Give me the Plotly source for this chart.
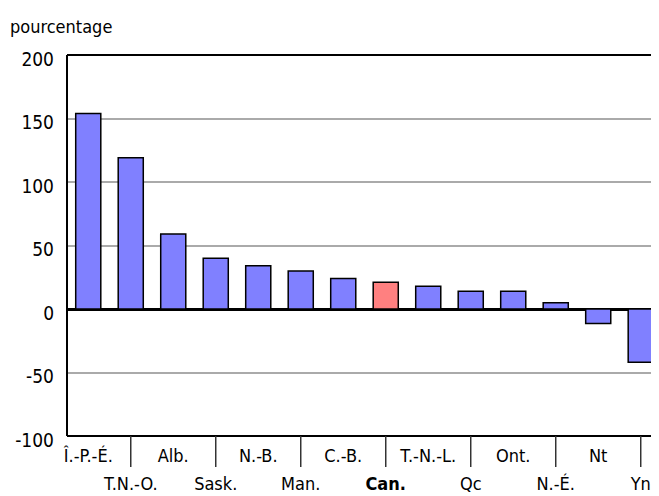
import plotly.graph_objects as go

categories = ["Î.-P.-É.", "T.N.-O.", "Alb.", "Sask.", "N.-B.", "Man.", "C.-B.",
              "Can.", "T.-N.-L.", "Qc", "Ont.", "N.-É.", "Nt", "Yn"]
values = [154, 119, 59, 40, 34, 30, 24, 21, 18, 14, 14, 5, -11.5, -42]
highlight = "Can."
y_ticks = [-100, -50, 0, 50, 100, 150, 200]
y_ticktext = ["-100", "-50", "0", "50", "100", "150", "200"]

colors = ["#ff8080" if c == highlight else "#8080ff" for c in categories]


def fmt(c):
    return f"<b>{c}</b>" if c == highlight else c


row1 = [fmt(c) if i % 2 == 0 else "" for i, c in enumerate(categories)]
row2 = [fmt(c) if i % 2 == 1 else "" for i, c in enumerate(categories)]

fig = go.Figure()
fig.add_trace(go.Bar(
    x=categories, y=values,
    marker=dict(color=colors, line=dict(color="black", width=1.5)),
    width=0.59,
))
# invisible helper trace on the second x axis (for the second label row)
fig.add_trace(go.Bar(x=categories, y=[None] * len(categories), xaxis="x2",
                     showlegend=False, hoverinfo="skip"))

font_family = "DejaVu Sans Condensed, Liberation Sans Narrow, Arial, sans-serif"

xcommon = dict(
    type="category",
    categoryorder="array", categoryarray=categories,
    tickmode="array", tickvals=categories,
    range=[-0.5, 13.43], tickangle=0, automargin=False,
    ticks="", showgrid=False, showline=False, zeroline=False,
    tickfont=dict(size=18, family=font_family, color="black"),
)

fig.update_layout(
    width=651, height=488,
    margin=dict(l=59, r=0, t=47, b=60, autoexpand=False),
    plot_bgcolor="white", paper_bgcolor="white",
    showlegend=False,
    font=dict(family=font_family, size=16, color="black"),
    xaxis=dict(**xcommon, ticktext=row1, ticklabelstandoff=7),
    xaxis2=dict(**xcommon, ticktext=row2, overlaying="x", side="bottom",
                anchor="y", ticklabelstandoff=35),
    yaxis=dict(
        range=[-100, 200], tickmode="array", tickvals=y_ticks, ticktext=y_ticktext,
        showgrid=True, gridcolor="#aaaaaa", gridwidth=2,
        zeroline=True, zerolinecolor="black", zerolinewidth=3,
        showline=False, ticks="", ticklabelstandoff=12, automargin=False,
        ticklabelshift=4,
        tickfont=dict(size=19, family=font_family, color="black"),
    ),
    bargap=0.41,
)

# Plot frame lines: left, top, bottom
fig.add_shape(type="line", xref="paper", yref="paper", x0=0, x1=0, y0=0, y1=1,
              line=dict(color="black", width=2))
fig.add_shape(type="line", xref="paper", yref="paper", x0=0, x1=1, y0=1, y1=1,
              line=dict(color="black", width=2))
fig.add_shape(type="line", xref="paper", yref="paper", x0=0, x1=1, y0=0, y1=0,
              line=dict(color="black", width=2))

# Separator ticks below axis at every second category
for i, c in enumerate(categories):
    if i % 2 == 1:
        fig.add_shape(type="line", xref="x", yref="paper", x0=c, x1=c,
                      y0=0, y1=-31 / 381, line=dict(color="#333", width=1.5),
                      layer="above")

fig.add_annotation(text="pourcentage", xref="paper", yref="paper",
                   x=(8 - 67) / 592, y=1 + 16 / 381, xanchor="left", yanchor="bottom",
                   showarrow=False, font=dict(size=18, family=font_family, color="black"))

fig.write_html("out.html")
